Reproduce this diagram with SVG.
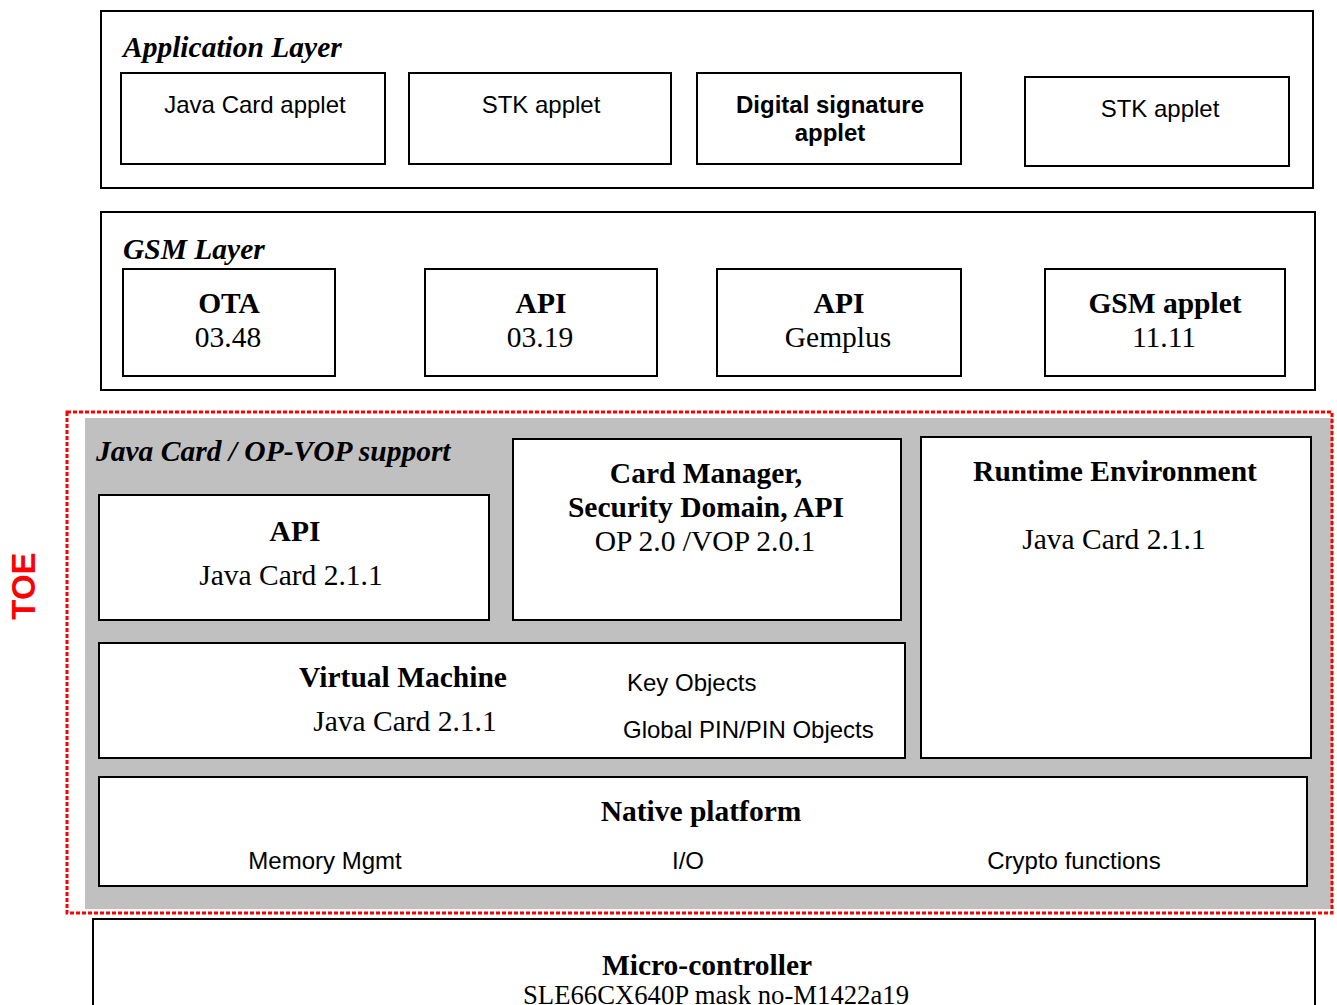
<svg xmlns="http://www.w3.org/2000/svg" width="1337" height="1005" viewBox="0 0 1337 1005">
<style>
.box{fill:#fff;stroke:#000;stroke-width:2}
.sans{font-family:"Liberation Sans",Arial,sans-serif;font-size:24px;fill:#000}
.sansb{font-family:"Liberation Sans",Arial,sans-serif;font-size:24px;font-weight:bold;fill:#000}
.ser{font-family:"Liberation Serif","Times New Roman",serif;font-size:29.5px;fill:#000}
.serb{font-family:"Liberation Serif","Times New Roman",serif;font-size:29.5px;font-weight:bold;fill:#000}
.title{font-family:"Liberation Serif","Times New Roman",serif;font-size:29.5px;font-weight:bold;font-style:italic;fill:#000}
</style>
<rect width="1337" height="1005" fill="#fff"/>
<g id="application-layer">
<rect class="box" x="101" y="11" width="1212" height="177"/>
<text class="title" x="123" y="57">Application Layer</text>
</g>
<g id="java-card-applet"><rect class="box" x="121" y="73" width="264" height="91"/><text class="sans" x="255" y="113" text-anchor="middle">Java Card applet</text></g>
<g id="stk-applet-1"><rect class="box" x="409" y="73" width="262" height="91"/><text class="sans" x="541" y="113" text-anchor="middle">STK applet</text></g>
<g id="digital-signature-applet"><rect class="box" x="697" y="73" width="264" height="91"/><text class="sansb" x="830" y="113" text-anchor="middle">Digital signature</text><text class="sansb" x="830" y="141" text-anchor="middle">applet</text></g>
<g id="stk-applet-2"><rect class="box" x="1025" y="77" width="264" height="89"/><text class="sans" x="1160" y="117" text-anchor="middle">STK applet</text></g>

<g id="gsm-layer">
<rect class="box" x="101" y="212" width="1214" height="178"/>
<text class="title" x="123" y="259">GSM Layer</text>
</g>
<g id="ota"><rect class="box" x="123" y="269" width="212" height="107"/><text class="serb" x="229" y="313" text-anchor="middle">OTA</text><text class="ser" x="228" y="347" text-anchor="middle">03.48</text></g>
<g id="api-0319"><rect class="box" x="425" y="269" width="232" height="107"/><text class="serb" x="541" y="313" text-anchor="middle">API</text><text class="ser" x="540" y="347" text-anchor="middle">03.19</text></g>
<g id="api-gemplus"><rect class="box" x="717" y="269" width="244" height="107"/><text class="serb" x="839" y="313" text-anchor="middle">API</text><text class="ser" x="838" y="347" text-anchor="middle">Gemplus</text></g>
<g id="gsm-applet"><rect class="box" x="1045" y="269" width="240" height="107"/><text class="serb" x="1165" y="313" text-anchor="middle">GSM applet</text><text class="ser" x="1164" y="347" text-anchor="middle">11.11</text></g>

<g id="toe">
<rect x="85" y="418" width="1248" height="491" fill="#c0c0c0"/>
<rect x="67" y="412" width="1265" height="501" fill="none" stroke="#f00" stroke-width="3" stroke-dasharray="4 2"/>
<text transform="translate(35,586) rotate(-90)" font-family="Liberation Sans,Arial,sans-serif" font-size="33" font-weight="bold" fill="#f00" text-anchor="middle">TOE</text>
<text class="title" x="96" y="461">Java Card / OP-VOP support</text>
</g>
<g id="api-javacard"><rect class="box" x="99" y="495" width="390" height="125"/><text class="serb" x="295" y="541" text-anchor="middle">API</text><text class="ser" x="291" y="585" text-anchor="middle">Java Card 2.1.1</text></g>
<g id="card-manager"><rect class="box" x="513" y="439" width="388" height="181"/><text class="serb" x="706" y="483" text-anchor="middle">Card Manager,</text><text class="serb" x="706" y="517" text-anchor="middle">Security Domain, API</text><text class="ser" x="705" y="551" text-anchor="middle">OP 2.0 /VOP 2.0.1</text></g>
<g id="runtime-environment"><rect class="box" x="921" y="437" width="390" height="321"/><text class="serb" x="1115" y="481" text-anchor="middle">Runtime Environment</text><text class="ser" x="1114" y="549" text-anchor="middle">Java Card 2.1.1</text></g>
<g id="virtual-machine"><rect class="box" x="99" y="643" width="806" height="115"/><text class="serb" x="403" y="687" text-anchor="middle">Virtual Machine</text><text class="ser" x="405" y="731" text-anchor="middle">Java Card 2.1.1</text><text class="sans" x="627" y="691">Key Objects</text><text class="sans" x="623" y="738">Global PIN/PIN Objects</text></g>
<g id="native-platform"><rect class="box" x="99" y="777" width="1208" height="109"/><text class="serb" x="701" y="821" text-anchor="middle">Native platform</text><text class="sans" x="325" y="869" text-anchor="middle">Memory Mgmt</text><text class="sans" x="688" y="869" text-anchor="middle">I/O</text><text class="sans" x="1074" y="869" text-anchor="middle">Crypto functions</text></g>

<g id="micro-controller"><rect class="box" x="93" y="919" width="1222" height="100"/><text class="serb" x="707" y="975" text-anchor="middle">Micro-controller</text><text class="ser" x="716" y="1004" text-anchor="middle" style="font-size:26.7px">SLE66CX640P mask no-M1422a19</text></g>
<g id="connectors"/>
</svg>
